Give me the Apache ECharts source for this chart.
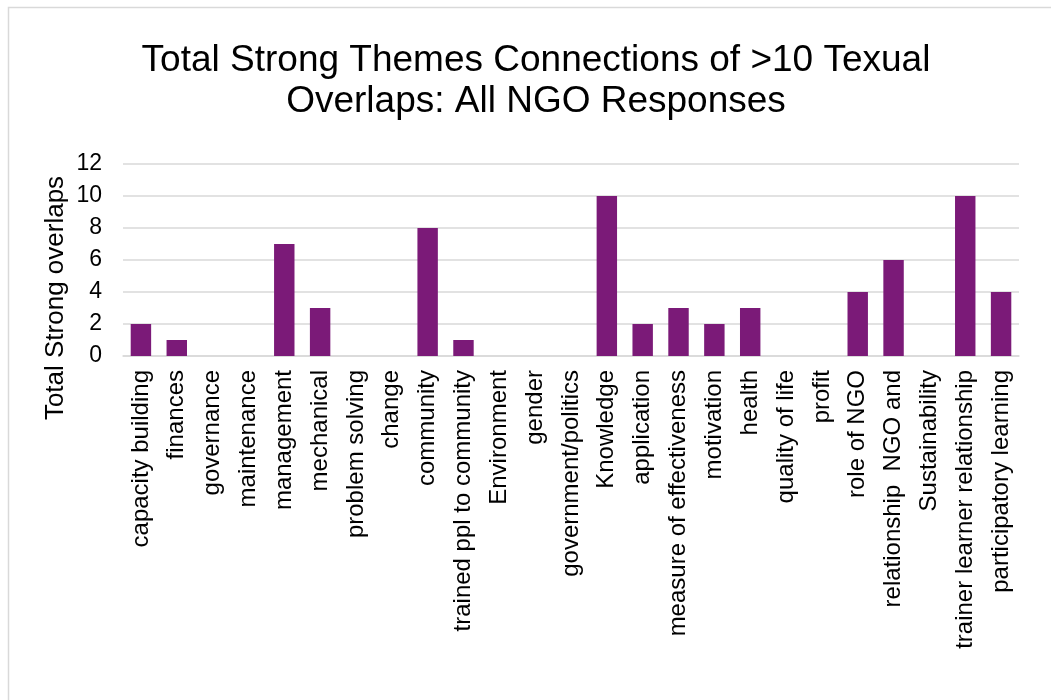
<!DOCTYPE html>
<html>
<head>
<meta charset="utf-8">
<script src="https://cdn.jsdelivr.net/npm/echarts@6/dist/echarts.min.js"></script>
<style>html,body{margin:0;padding:0;background:#fff;}#c{width:1051px;height:700px;}</style>
</head>
<body>
<div id="c"></div>
<script>
const categories = ["capacity building","finances","governance","maintenance","management","mechanical","problem solving","change","community","trained ppl to community","Environment","gender","government/politics","Knowledge","application","measure of effectiveness","motivation","health","quality of life","profit","role of NGO","relationship  NGO and","Sustainability","trainer learner relationship","participatory learning"];
const values = [2,1,0,0,7,3,0,0,8,1,0,0,0,10,2,3,2,3,0,0,4,6,0,10,4];
const yTicks = {min:0, max:12, interval:2};
const titleText = "Total Strong Themes Connections of >10 Texual\nOverlaps: All NGO Responses";
const yName = "Total Strong overlaps";

const chart = echarts.init(document.getElementById('c'), null, {renderer:'canvas'});
const font = "'Liberation Sans', Arial, sans-serif";
chart.setOption({
  animation:false,
  backgroundColor:'#fff',
  title:{
    text:titleText, left:536, top:40, padding:0, textAlign:'center',
    textStyle:{fontFamily:font, fontSize:37, fontWeight:'normal', color:'#000', lineHeight:41}
  },
  graphic:[
    {type:'rect', shape:{x:8.5,y:7.5,width:1100,height:800}, style:{fill:null, stroke:'#d9d9d9', lineWidth:1.5}, silent:true},
    {type:'text', x:56, y:298, rotation:Math.PI/2,
     style:{text:yName, fontFamily:font, fontSize:26, fill:'#000', textAlign:'center', textVerticalAlign:'middle'}}
  ],
  grid:{left:123, right:32, top:164, bottom:344, containLabel:false},
  xAxis:{
    type:'category', data:categories,
    axisLine:{show:true, lineStyle:{color:'#d9d9d9', width:1.5}},
    axisTick:{show:false},
    axisLabel:{rotate:90, interval:0, margin:14, fontFamily:font, fontSize:24, color:'#000'}
  },
  yAxis:{
    type:'value', min:yTicks.min, max:yTicks.max, interval:yTicks.interval,
    axisLine:{show:false}, axisTick:{show:false},
    splitLine:{lineStyle:{color:'#d9d9d9', width:1.5}},
    axisLabel:{margin:21, fontFamily:font, fontSize:23, color:'#000'}
  },
  series:[{
    type:'bar', data:values, barCategoryGap:'43%',
    itemStyle:{color:'#7b1a78', borderWidth:0}
  }]
});
</script>
</body>
</html>
